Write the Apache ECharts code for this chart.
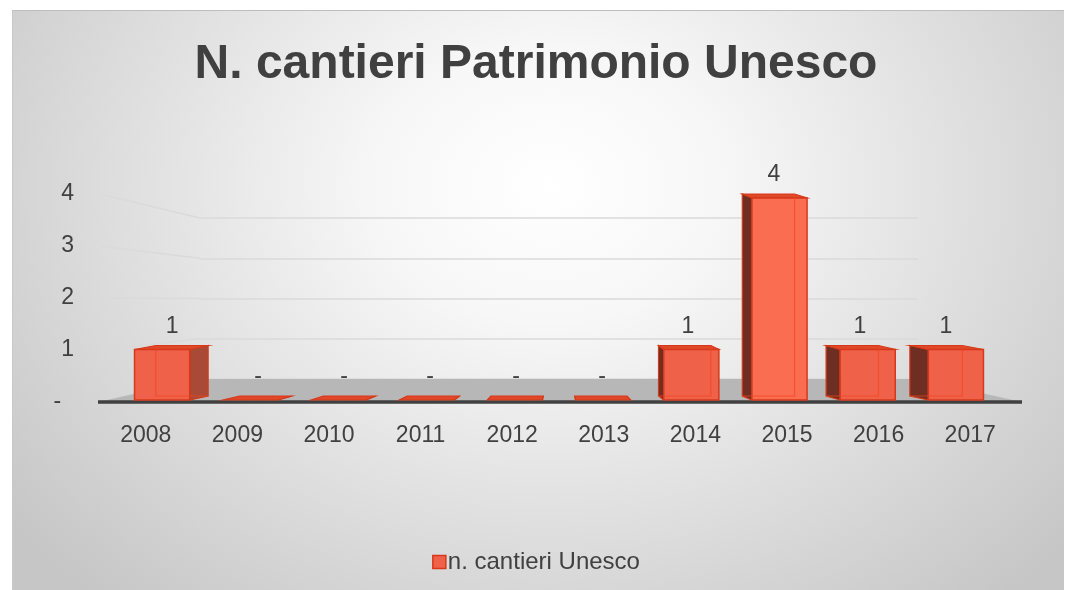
<!DOCTYPE html>
<html>
<head>
<meta charset="utf-8">
<script src="https://cdn.jsdelivr.net/npm/echarts@6/dist/echarts.min.js"></script>
<style>
  html, body { margin: 0; padding: 0; background: #fff; }
  #bg {
    position: absolute; left: 12px; top: 10px; width: 1051px; height: 580px;
    border-top: 1px solid #bdbdbd; border-left: 1px solid #c8c8c8;
    background: radial-gradient(ellipse 65% 95% at 51% 30%, #ffffff 0%, #f7f7f7 25%, #c6c6c6 100%);
  }
  #main { position: absolute; left: 0; top: 0; width: 1072px; height: 590px; }
</style>
</head>
<body>
<div id="bg"></div>
<div id="main"></div>
<script>
// dati
var years = ['2008', '2009', '2010', '2011', '2012', '2013', '2014', '2015', '2016', '2017'];
var cantieri = [1, 0, 0, 0, 0, 0, 1, 4, 1, 1];
var yTicks = [1, 2, 3, 4];

var chart = echarts.init(document.getElementById('main'));
var txt = '#404040';
var font = 'Liberation Sans, Arial, sans-serif';

function fmtZero(v) {
  return v === 0 ? '-' : String(v);
}

// box 3D (faccia frontale, laterale, superiore)
function renderBox(params, api) {
  var i = api.value(0);
  var v = api.value(1);
  var cs = params.coordSys;
  var vp = cs.x + cs.width / 2;
  var top = api.coord([i, v]);
  var base = api.coord([i, 0]);
  var w = api.size([1, 0])[0] * 0.625;
  var xl = top[0] - w / 2, xr = top[0] + w / 2;
  var yt = top[1], yb = base[1];
  var bxl = xl + (vp - xl) * 0.05, bxr = xr + (vp - xr) * 0.05;
  var byt = yt - 4, byb = yb - 4;
  var edge = '#d5391a';
  var kids = [];
  var leftSide = top[0] < vp;
  // faccia laterale
  if (leftSide) {
    kids.push({ type: 'polygon', shape: { points: [[xr, yt], [bxr, byt], [bxr, byb], [xr, yb]] },
      style: { fill: '#a84a36', stroke: edge, lineWidth: 1.2 } });
  } else {
    kids.push({ type: 'polygon', shape: { points: [[xl, yt], [bxl, byt], [bxl, byb], [xl, yb]] },
      style: { fill: '#6e2f22', stroke: edge, lineWidth: 1.2 } });
  }
  // faccia superiore
  kids.push({ type: 'polygon', shape: { points: [[xl, yt], [bxl, byt], [bxr, byt], [xr, yt]] },
    style: { fill: '#e0482a', stroke: edge, lineWidth: 1.2 } });
  // faccia frontale
  if (yb - yt > 0.5) {
    kids.push({ type: 'rect', shape: { x: xl, y: yt, width: w, height: yb - yt },
      style: { fill: v >= 4 ? '#fb6d50' : '#f0614a', stroke: edge, lineWidth: 1.5 } });
    // spigoli posteriori visti in trasparenza
    var bx = leftSide ? bxl : bxr;
    kids.push({ type: 'polyline', shape: { points: [[bx, byt], [bx, byb], [leftSide ? bxr : bxl, byb]] },
      style: { stroke: '#f2441f', lineWidth: 1.2, opacity: 0.7, fill: null } });
  }
  // etichetta
  kids.push({ type: 'text', style: {
    text: fmtZero(v), x: (xl + xr + bxl + bxr) / 4, y: yt - 23,
    align: 'center', verticalAlign: 'middle', fill: txt, font: '23px ' + font } });
  return { type: 'group', children: kids };
}

function backPt(x, v) {
  return chart.convertToPixel({ gridIndex: 2 }, [x, v]);
}

// pavimento
function renderFloor(params, api) {
  var cs = params.coordSys;
  var y0 = api.coord([0, 0])[1];
  var bl = backPt(0, 0), br = backPt(1, 0);
  return { type: 'group', children: [
    { type: 'polygon', shape: { points: [[cs.x - 2, y0], bl, br, [cs.x + cs.width + 6, y0]] },
      style: { fill: '#b7b7b7' } },
    { type: 'line', shape: { x1: cs.x - 2, y1: y0, x2: cs.x + cs.width + 6, y2: y0 },
      style: { stroke: '#404040', lineWidth: 3.5 } }
  ] };
}

// linee della parete laterale
function renderWall(params, api) {
  var v = api.value(1);
  var cs = params.coordSys;
  var fy = api.coord([0, v])[1];
  var b = backPt(0, v);
  return { type: 'line', shape: { x1: cs.x, y1: fy, x2: b[0], y2: b[1] },
    style: { stroke: '#dadada', lineWidth: 1.5 } };
}

var option = {
  animation: false,
  title: {
    text: 'N. cantieri Patrimonio Unesco',
    left: 'center',
    top: 36,
    textStyle: { fontFamily: font, fontSize: 48, fontWeight: 'bold', color: txt }
  },
  legend: {
    data: ['n. cantieri Unesco'],
    bottom: 11,
    left: 'center',
    icon: 'rect',
    itemWidth: 13,
    itemHeight: 13,
    itemGap: 4,
    itemStyle: { color: '#f0614a', borderColor: '#d5391a', borderWidth: 1.5 },
    textStyle: { fontFamily: font, fontSize: 24, color: txt, padding: [0, 0, 0, -3] }
  },
  grid: [
    { left: 118, right: 72, top: 198, bottom: 190 },   // barre
    { left: 100, right: 56, top: 194, bottom: 188 },   // assi frontali
    { left: 200, right: 154, top: 218, bottom: 211 }   // parete di fondo
  ],
  xAxis: [
    { type: 'category', gridIndex: 0, data: years, show: false },
    { type: 'category', gridIndex: 1, data: years,
      axisLine: { show: false }, axisTick: { show: false },
      axisLabel: { margin: 22, fontFamily: font, fontSize: 23, color: txt } },
    { type: 'value', gridIndex: 2, min: 0, max: 1, show: false }
  ],
  yAxis: [
    { type: 'value', gridIndex: 0, min: 0, max: 4, interval: 1, show: false },
    { type: 'value', gridIndex: 1, min: 0, max: 4, interval: 1,
      axisLine: { show: false }, axisTick: { show: false }, splitLine: { show: false },
      axisLabel: { margin: 26, fontFamily: font, fontSize: 23, color: txt,
        formatter: function (v) { return v === 0 ? '-  ' : String(v); } } },
    { type: 'value', gridIndex: 2, min: 0, max: 4, interval: 1,
      axisLine: { show: false }, axisTick: { show: false }, axisLabel: { show: false },
      splitLine: { lineStyle: { color: '#dadada', width: 1.5 } } }
  ],
  series: [
    {
      name: 'wall', type: 'custom', xAxisIndex: 1, yAxisIndex: 1,
      renderItem: renderWall, silent: true, z: 1,
      data: yTicks.map(function (t) { return [0, t]; })
    },
    {
      name: 'floor', type: 'custom', xAxisIndex: 1, yAxisIndex: 1,
      renderItem: renderFloor, data: [[0, 0]], silent: true, z: 2
    },
    {
      name: 'n. cantieri Unesco', type: 'custom', xAxisIndex: 0, yAxisIndex: 0,
      itemStyle: { color: '#f0614a', borderColor: '#d5391a', borderWidth: 1.5 },
      renderItem: renderBox, z: 3,
      data: years.map(function (y, i) { return [i, cantieri[i]]; })
    }
  ]
};

chart.setOption(option);
</script>
</body>
</html>
